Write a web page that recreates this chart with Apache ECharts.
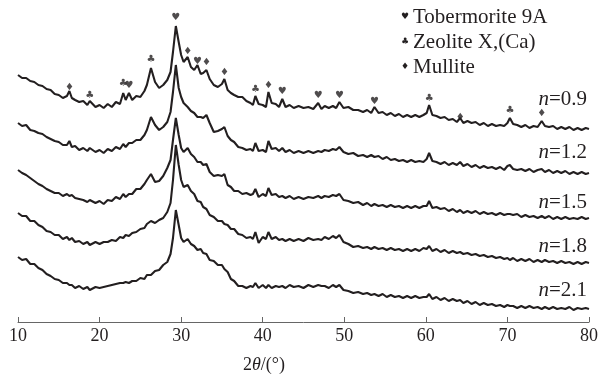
<!DOCTYPE html>
<html><head><meta charset="utf-8">
<script src="https://cdn.jsdelivr.net/npm/echarts@6/dist/echarts.min.js"></script>
<style>html,body{margin:0;padding:0;background:#fff}#c{width:601px;height:379px}</style>
</head><body><div id="c"></div>
<script>
// 2θ positions (degrees)
const twoTheta = [
 10,10.5,11,11.5,12,12.5,13,13.5,14,14.5,15,15.5,16,16.3,16.6,
 17,17.5,18,18.5,18.8,19.5,20,20.5,21,21.5,22,22.5,
 22.9,23.2,23.6,24,24.5,25,25.5,25.8,26.3,26.8,27.3,27.8,28.3,28.7,
 29.0,29.35,29.7,30.0,30.3,30.8,31.2,31.6,32.0,32.4,32.7,33.1,33.5,
 34.0,34.5,35.0,35.3,35.7,36.1,36.5,37.0,37.5,38.0,38.5,38.8,39.1,39.5,
 40.0,40.4,40.7,41.1,41.6,42.0,42.4,42.8,43.3,43.8,44.4,45.0,45.6,46.2,46.8,
 47.2,47.6,48.1,48.6,49.0,49.4,49.9,50.5,51.1,51.7,52.3,52.8,53.3,53.7,
 54.2,54.7,55.2,55.7,56.2,56.7,57.2,57.7,58.2,58.7,59.2,59.7,60.1,60.4,60.8,
 61.3,61.8,62.3,62.8,63.3,63.8,64.2,64.6,65.1,65.6,66.1,66.6,67.1,67.6,
 68.1,68.6,69.1,69.6,70.0,70.3,70.7,71.2,71.7,72.2,72.7,73.2,73.7,74.2,
 74.6,75.1,75.6,76.1,76.6,77.1,77.6,78.1,78.6,79.1,79.6,80.0
];
// stacked intensities (a.u., offset per sample)
const i09 = [
 247,244,244,241,240,237,236,233,232,228,227,224,226,231,224,
 222,220,221,217,221,215,217,214,218,215,220,218,
 229,222,229,222,226,225,231,237,254,240,234,237,242,250,
 270,296,280,267,260,265,255,252,257,248,249,252,243,
 237,235,238,243,232,229,227,225,225,221,219,217,226,218,
 217,215,230,219,218,215,223,215,217,214,216,214,215,213,219,
 213,216,214,216,214,220,214,215,212,212,210,212,209,215,
 209,210,207,209,206,208,205,207,205,207,205,207,209,217,207,
 206,204,205,202,203,200,204,199,201,199,200,197,199,196,
 198,196,197,196,199,204,198,197,195,197,194,196,195,201,
 196,195,196,193,195,193,195,192,194,192,194,193
];
const i12 = [
 199,196,197,192,191,189,188,185,183,181,180,177,177,181,175,
 176,172,174,171,174,170,172,169,173,171,175,173,
 178,175,179,179,182,182,187,192,205,197,192,195,200,210,
 230,257,234,225,219,215,211,209,205,205,204,207,199,
 190,191,193,195,186,182,180,175,174,172,173,171,179,171,
 172,170,181,173,174,171,174,170,172,169,171,169,171,169,171,
 170,172,171,173,172,175,170,168,169,166,167,165,167,165,
 166,163,165,162,163,161,162,160,162,160,161,160,163,169,161,
 160,158,160,157,159,157,160,156,158,155,157,154,156,154,
 155,153,155,152,156,157,153,152,153,151,153,150,152,153,
 150,152,149,151,149,151,148,150,148,150,148,149
];
const i15 = [
 152,149,147,144,141,138,136,133,131,129,129,126,128,126,127,
 124,123,122,120,122,119,121,118,122,121,125,123,
 128,125,128,128,133,133,138,142,148,140,141,146,154,162,
 182,204,187,174,170,174,168,165,160,160,157,158,150,
 146,147,146,148,137,135,131,131,128,129,127,128,133,125,
 128,126,134,127,128,125,126,124,126,123,125,123,125,124,126,
 124,126,125,127,126,128,122,121,119,120,117,119,116,118,
 116,117,115,117,115,116,114,116,114,116,114,116,116,121,114,
 115,113,114,111,113,110,112,109,111,109,111,108,110,108,
 109,107,109,107,108,108,107,108,105,107,105,106,104,106,
 104,106,103,105,103,105,103,104,103,105,103,104
];
const i18 = [
 109,106,106,101,101,97,95,91,90,87,87,83,85,82,84,
 80,81,78,80,77,80,78,80,80,82,81,85,
 84,87,86,89,90,93,94,98,101,99,102,104,110,119,
 142,177,157,142,135,137,131,128,121,120,115,113,107,
 105,101,101,98,97,93,93,88,87,84,85,83,90,79,
 85,83,90,83,85,82,83,81,83,81,83,81,84,82,83,
 82,85,83,86,84,87,80,78,75,76,74,75,73,75,
 73,74,72,74,72,73,71,73,71,73,71,74,73,76,71,
 73,70,72,69,71,69,70,68,69,67,68,66,67,65,
 66,64,65,63,64,62,64,61,63,61,63,60,62,60,
 62,60,61,59,61,59,60,58,60,58,60,59
];
const i21 = [
 65,62,63,58,58,54,52,48,46,43,42,39,39,37,37,
 34,36,33,35,32,35,34,35,36,37,38,39,
 39,40,39,41,41,44,43,47,47,51,52,57,60,68,
 84,112,97,84,80,83,78,76,72,73,69,68,62,
 61,57,57,53,50,43,41,36,36,34,36,35,39,34,
 37,34,37,34,36,35,36,34,37,35,36,34,37,35,37,
 36,36,34,37,35,37,32,31,29,30,28,29,27,28,
 26,28,25,27,25,26,24,26,24,26,24,25,25,28,23,
 25,22,24,21,23,21,22,19,21,18,20,17,19,17,
 18,16,17,15,17,16,16,14,16,14,16,14,15,13,
 15,13,15,13,14,13,15,12,14,13,14,13
];
const sampleNames = ['0.9','1.2','1.5','1.8','2.1'];
const sampleLabelY = [100,153,203,247,291];
const xTicks = [10,20,30,40,50,60,70,80];
// phase marks [2θ, height]
const tobermorite = [[29.35,305],[23.6,237],[32.0,261],[42.4,231],[46.8,227],[49.4,227],[53.7,221]];
const zeolite = [[26.3,263],[18.8,227],[22.9,239],[39.1,233],[60.4,224],[70.3,212]];
const mullite = [[16.3,235],[30.8,271],[33.1,260],[35.3,250],[40.7,237],[64.2,205],[74.2,209]];
const phaseNames = ['Tobermorite 9A','Zeolite X,(Ca)','Mullite'];
const phaseGlyphs = ['\u2665','\u2663','\u2666'];

const serif = '"Liberation Serif", "Times New Roman", Times, serif';
const ink = '#231f20';
const traces = [i09,i12,i15,i18,i21];

const series = traces.map((arr, k) => ({
  type: 'line',
  name: 'n=' + sampleNames[k],
  data: twoTheta.map((t, j) => [t, arr[j]]),
  showSymbol: false,
  lineStyle: {color: ink, width: 2.1},
  silent: true
}));
[tobermorite, zeolite, mullite].forEach((pts, k) => {
  series.push({
    type: 'scatter',
    data: pts,
    symbolSize: 1,
    itemStyle: {color: 'rgba(0,0,0,0)'},
    label: {show: true, position: 'inside', formatter: phaseGlyphs[k],
      fontFamily: 'DejaVu Sans', fontSize: 10, color: ink},
    silent: true
  });
});

const graphics = [];
phaseNames.forEach((nm, k) => {
  const yc = 18 + k * 25;
  graphics.push({type: 'text', left: 401, top: yc - 6,
    style: {text: phaseGlyphs[k], fontFamily: 'DejaVu Sans', fontSize: 9, fill: ink}});
  graphics.push({type: 'text', left: 413, top: yc - 11,
    style: {text: nm, fontFamily: serif, fontSize: 21, fill: ink}});
});
sampleNames.forEach((nm, k) => {
  graphics.push({type: 'text', right: 14, top: sampleLabelY[k] - 11,
    style: {text: '{i|n}=' + nm, fontFamily: serif, fontSize: 21, fill: ink,
      rich: {i: {fontStyle: 'italic', fontFamily: serif, fontSize: 21, fill: ink}}}});
});
graphics.push({type: 'text', left: 243, top: 356,
  style: {text: '2{i|θ}/(°)', fontFamily: serif, fontSize: 18, fill: ink,
    rich: {i: {fontStyle: 'italic', fontFamily: serif, fontSize: 18, fill: ink}}}});

const chart = echarts.init(document.getElementById('c'));
chart.setOption({
  animation: false,
  backgroundColor: '#fff',
  grid: {left: 18, right: 8, top: 0, bottom: 57},
  xAxis: {type: 'value', min: xTicks[0], max: xTicks[xTicks.length-1], interval: 10,
    axisLine: {lineStyle: {color: '#666', width: 1}},
    axisTick: {inside: true, length: 5, lineStyle: {color: '#666'}},
    axisLabel: {fontFamily: serif, fontSize: 18, color: ink, margin: 5},
    splitLine: {show: false}},
  yAxis: {type: 'value', min: 0, max: 322, show: false},
  series: series,
  graphic: graphics
});
</script>
</body></html>
